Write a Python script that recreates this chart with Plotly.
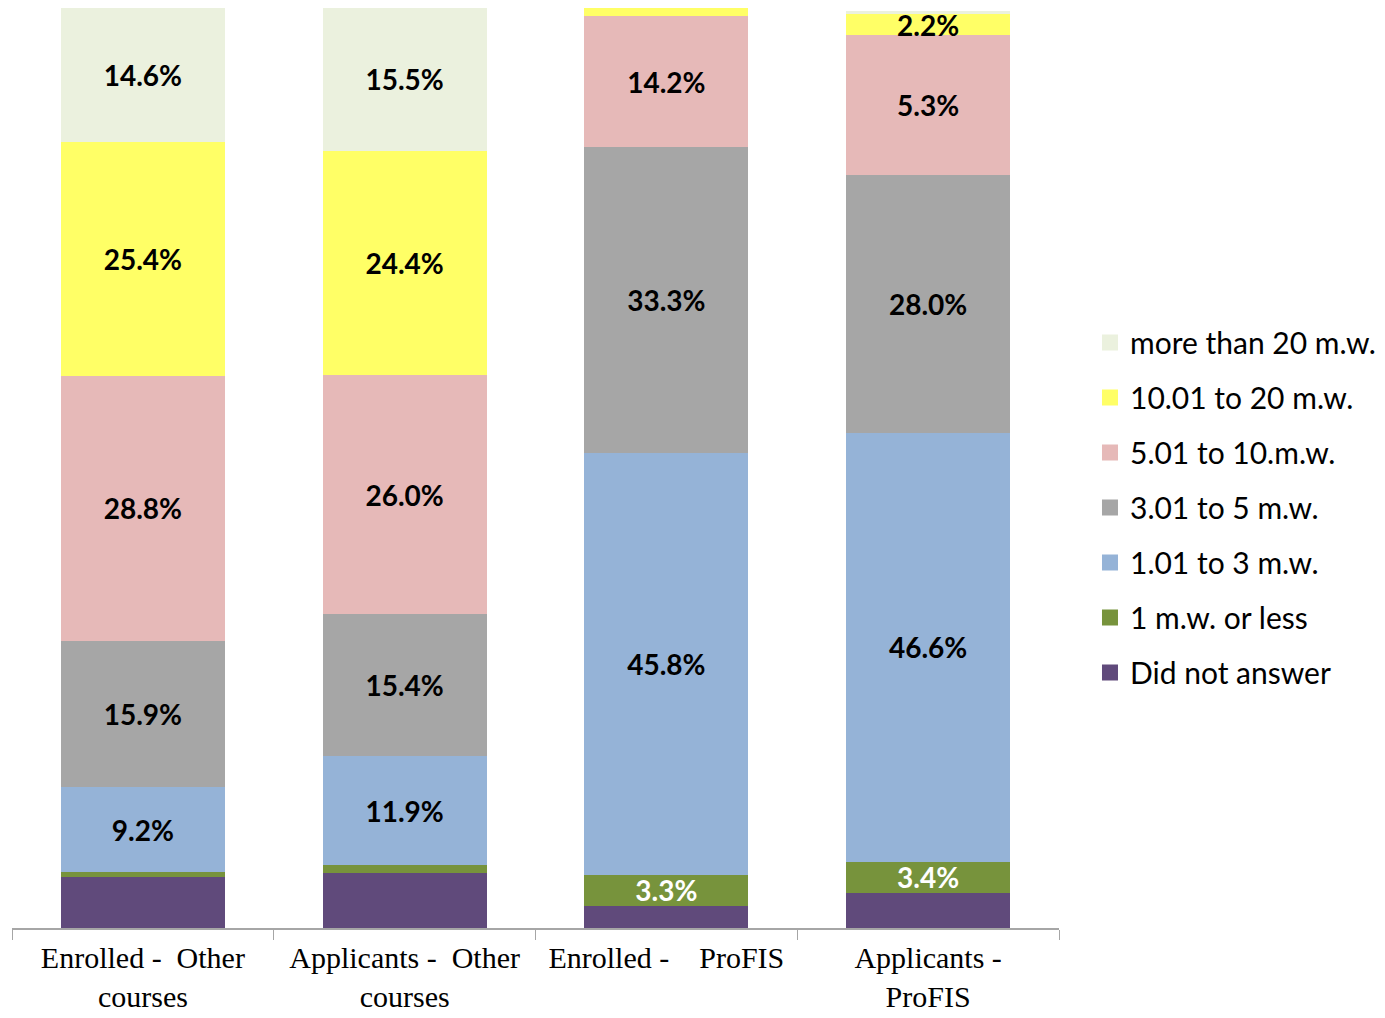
import plotly.graph_objects as go

# categories (x axis)
categorie = ["Enrolled - Other courses", "Applicants - Other courses",
             "Enrolled - ProFIS", "Applicants - ProFIS"]
etichette_asse = ["Enrolled -\u00a0\u00a0Other<br>courses",
                  "Applicants -\u00a0\u00a0Other<br>courses",
                  "Enrolled -\u00a0\u00a0\u00a0\u00a0ProFIS",
                  "Applicants -<br>ProFIS"]

# series, bottom to top (percent)
serie = ["Did not answer", "1 m.w. or less", "1.01 to 3 m.w.", "3.01 to 5 m.w.",
         "5.01 to 10.m.w.", "10.01 to 20 m.w.", "more than 20 m.w."]
non_risposto = [5.5, 6.0, 2.4, 3.8]
fino_1 = [0.6, 0.8, 3.4, 3.4]
da_1_a_3 = [9.2, 11.9, 45.8, 46.6]
da_3_a_5 = [15.9, 15.4, 33.3, 28.0]
da_5_a_10 = [28.8, 26.0, 14.2, 15.3]
da_10_a_20 = [25.4, 24.4, 0.9, 2.2]
oltre_20 = [14.6, 15.5, 0.0, 0.4]

# data labels as printed on the chart
lab_non_risposto = ["", "", "", ""]
lab_fino_1 = ["", "", "3.3%", "3.4%"]
lab_1_3 = ["9.2%", "11.9%", "45.8%", "46.6%"]
lab_3_5 = ["15.9%", "15.4%", "33.3%", "28.0%"]
lab_5_10 = ["28.8%", "26.0%", "14.2%", "5.3%"]
lab_10_20 = ["25.4%", "24.4%", "", "2.2%"]
lab_oltre_20 = ["14.6%", "15.5%", "", ""]

valori = [non_risposto, fino_1, da_1_a_3, da_3_a_5, da_5_a_10, da_10_a_20, oltre_20]
testi = [lab_non_risposto, lab_fino_1, lab_1_3, lab_3_5, lab_5_10, lab_10_20, lab_oltre_20]
colori = ["#604A7B", "#77933C", "#95B3D7", "#A6A6A6", "#E6B9B8", "#FFFF66", "#EBF1DE"]
colori_testo = ["black", "white", "black", "black", "black", "black", "black"]

fig = go.Figure()
for i in range(len(serie)):
    fig.add_trace(go.Bar(
        x=categorie, y=valori[i], name=serie[i], text=testi[i],
        texttemplate="%{text}", textposition="inside", insidetextanchor="middle",
        textangle=0, constraintext="none",
        textfont=dict(family="Lato", size=28, color=colori_testo[i], weight="bold"),
        marker=dict(color=colori[i], line=dict(width=0)),
        showlegend=False, hoverinfo="skip",
    ))

# legend entries (square swatches), top item = last series
for i in range(len(serie)):
    fig.add_trace(go.Scatter(
        x=[categorie[0]], y=[None], mode="markers", name=serie[i],
        marker=dict(symbol="square", size=18, color=colori[i]),
        legendgroup=serie[i], legendrank=100 - i, hoverinfo="skip",
    ))

fig.update_layout(
    barmode="stack",
    bargap=0.374,
    width=1377, height=1010,
    margin=dict(l=4, r=326, t=0, b=90),
    plot_bgcolor="white", paper_bgcolor="white",
    uniformtext=dict(minsize=28, mode="show"),
    legend=dict(
        x=1.0296, y=0.457, xanchor="left", yanchor="middle",
        traceorder="grouped", tracegroupgap=13,
        font=dict(family="Lato", size=30, color="black"),
        itemwidth=30,
    ),
    showlegend=True,
)
fig.update_xaxes(
    tickvals=categorie, ticktext=etichette_asse,
    tickson="boundaries", ticks="outside", ticklen=10, tickcolor="#A6A6A6",
    showline=True, linecolor="#A6A6A6", linewidth=1.5,
    ticklabelstandoff=2, automargin=False,
    tickfont=dict(family="Liberation Serif", size=30, color="black"),
)
fig.update_yaxes(range=[0, 100], visible=False)

fig.write_html("out.html")
